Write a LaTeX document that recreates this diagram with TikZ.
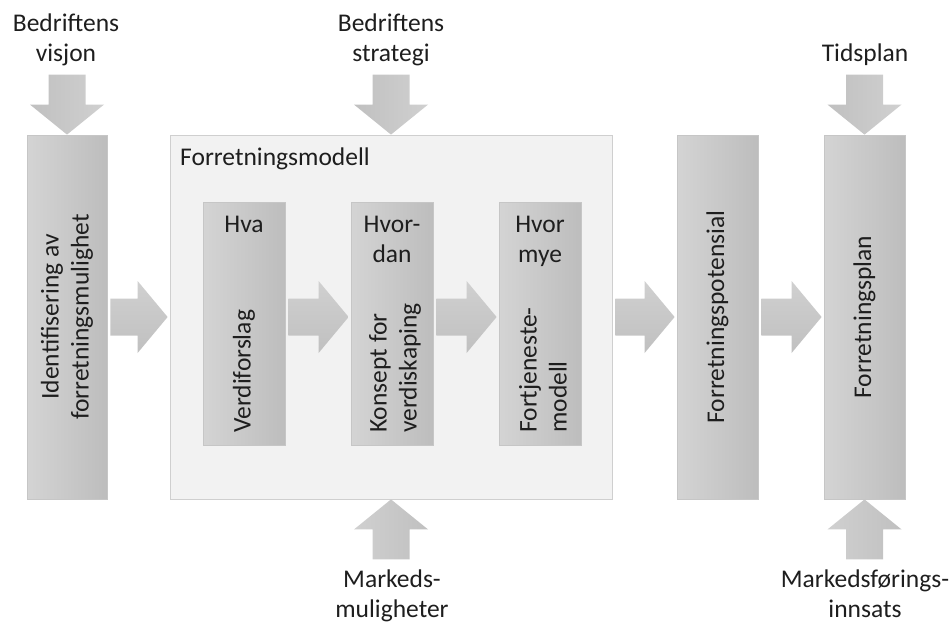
\documentclass[tikz,border=0pt]{standalone}
\usepackage{fontspec}
\setmainfont{Carlito}
\usetikzlibrary{calc}

\definecolor{ink}{HTML}{1E1E1E}
\definecolor{boxL}{HTML}{D4D4D4}
\definecolor{boxR}{HTML}{BDBDBD}
\definecolor{boxEdge}{HTML}{C6C6C6}
\definecolor{panel}{HTML}{F2F2F2}
\definecolor{panelEdge}{HTML}{CFCFCF}
\definecolor{arrLight}{HTML}{D0D0D0}
\definecolor{arrDark}{HTML}{C0C0C0}

\tikzset{
  txt/.style={font=\fontsize{25.5}{30}\selectfont, text=ink, inner sep=0pt},
  stage/.style={draw=boxEdge, line width=0.8pt, left color=boxL, right color=boxR,
    minimum width=80pt, minimum height=364pt, inner sep=0pt},
  substage/.style={draw=boxEdge, line width=0.8pt, left color=boxL, right color=boxR,
    minimum width=82pt, minimum height=243pt, inner sep=0pt},
  panelbox/.style={draw=panelEdge, line width=0.8pt, fill=panel,
    minimum width=442pt, minimum height=364pt, inner sep=0pt},
  rightfill/.style={top color=arrLight, bottom color=arrDark},
  downfill/.style={left color=arrDark, right color=arrLight},
  upfill/.style={left color=arrLight, right color=arrDark},
}

% block arrow pointing right, from node #1 to node #2, on the height of node #3
\newcommand\rightblock[3]{%
  \shade[rightfill] let \p1=(#1.east), \p2=(#2.west), \p3=(#3.center) in
    (\x1+3pt,\y3+18.5pt) -- (\x2-32pt,\y3+18.5pt) -- (\x2-32pt,\y3+36pt)
    -- (\x2-2pt,\y3) -- (\x2-32pt,\y3-36pt) -- (\x2-32pt,\y3-18.5pt)
    -- (\x1+3pt,\y3-18.5pt) -- cycle;}
% block arrow pointing down onto the top of node #1
\newcommand\downblock[1]{%
  \shade[downfill] let \p1=(#1.north) in
    (\x1-18.5pt,\y1+60pt) -- (\x1+18.5pt,\y1+60pt) -- (\x1+18.5pt,\y1+30pt)
    -- (\x1+37pt,\y1+30pt) -- (\x1,\y1) -- (\x1-37pt,\y1+30pt)
    -- (\x1-18.5pt,\y1+30pt) -- cycle;}
% block arrow pointing up onto the bottom of node #1
\newcommand\upblock[1]{%
  \shade[upfill] let \p1=(#1.south) in
    (\x1-18.5pt,\y1-60pt) -- (\x1+18.5pt,\y1-60pt) -- (\x1+18.5pt,\y1-30pt)
    -- (\x1+37pt,\y1-30pt) -- (\x1,\y1) -- (\x1-37pt,\y1-30pt)
    -- (\x1-18.5pt,\y1-30pt) -- cycle;}

\begin{document}
\begin{tikzpicture}[x=1pt, y=-1pt]
  \useasboundingbox (0,0) rectangle (949,623);

  % main stages
  \node[stage] (ident) at (67,317) {};
  \node[panelbox] (modell) at (391,317) {};
  \node[stage, minimum width=81pt] (potensial) at (717.5,317) {};
  \node[stage, minimum width=81pt] (plan) at (864.5,317) {};

  % sub-stages of the business model
  \node[substage] (hva) at (244,323.5) {};
  \node[substage] (hvordan) at (392,323.5) {};
  \node[substage] (hvormye) at (540,323.5) {};

  % texts inside the stages
  \node[txt, rotate=90, align=center] (identtxt) at (ident.center)
    {Identifisering av\\forretningsmulighet};
  \node[txt, anchor=base west] (modelltxt) at (180,165) {Forretningsmodell};
  \node[txt, rotate=90] (potensialtxt) at (potensial.center) {Forretningspotensial};
  \node[txt, rotate=90] (plantxt) at (plan.center) {Forretningsplan};

  \node[txt, anchor=base] (hvaq) at (244,232) {Hva};
  \node[txt, anchor=base, align=center] (hvordanq) at (392,262) {Hvor-\\dan};
  \node[txt, anchor=base, align=center] (hvormyeq) at (540,262) {Hvor\\mye};
  \node[txt, rotate=90, anchor=west] (hvatxt) at (244,433) {Verdiforslag};
  \node[txt, rotate=90, anchor=west, align=left] (hvordantxt) at (395,433)
    {Konsept for\\verdiskaping};
  \node[txt, rotate=90, anchor=west, align=left] (hvormyetxt) at (543,433)
    {Fortjeneste-\\modell};

  % flow between stages
  \rightblock{ident}{modell}{modell}
  \rightblock{hva}{hvordan}{modell}
  \rightblock{hvordan}{hvormye}{modell}
  \rightblock{modell}{potensial}{modell}
  \rightblock{potensial}{plan}{modell}

  % inputs from above and below
  \downblock{ident}
  \downblock{modell}
  \downblock{plan}
  \upblock{modell}
  \upblock{plan}

  \node[txt, anchor=base, align=center] (visjon) at (66,62) {Bedriftens\\visjon};
  \node[txt, anchor=base, align=center] (strategi) at (391,62) {Bedriftens\\strategi};
  \node[txt, anchor=base] (tidsplan) at (865,62) {Tidsplan};
  \node[txt, anchor=base, align=center] (muligheter) at (392,617) {Markeds-\\muligheter};
  \node[txt, anchor=base, align=center] (innsats) at (865,617) {Markedsførings-\\innsats};
\end{tikzpicture}
\end{document}
